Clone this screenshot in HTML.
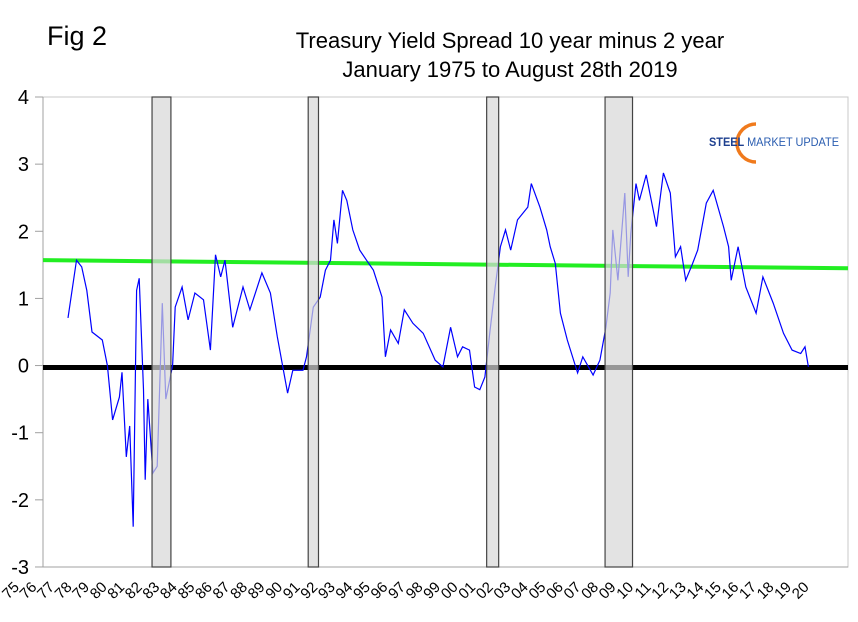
<!DOCTYPE html>
<html><head><meta charset="utf-8"><style>
body{margin:0;background:#fff;font-family:"Liberation Sans",sans-serif}
svg{display:block}
</style></head><body>
<svg width="858" height="622" viewBox="0 0 858 622" xmlns="http://www.w3.org/2000/svg">
<text x="47" y="45" font-size="27">Fig 2</text>
<text x="510" y="48" font-size="22" text-anchor="middle">Treasury Yield Spread 10 year minus 2 year</text>
<text x="510" y="77" font-size="22" text-anchor="middle">January 1975 to August 28th 2019</text>
<rect x="43" y="97" width="805" height="470" fill="none" stroke="#c8c8c8" stroke-width="1"/>
<g id="yaxis"></g>
<g id="xaxis"></g>
<g id="series"></g>
<g id="bars"></g>
<g>
<path d="M756 124 A19 19 0 1 0 756 162" fill="none" stroke="#f07a1c" stroke-width="3.5"/>
<text x="709" y="146" font-size="12" font-weight="bold" fill="#1d3f8f" textLength="130" lengthAdjust="spacingAndGlyphs">STEEL <tspan font-weight="normal" fill="#2a5db0">MARKET UPDATE</tspan></text>
</g>
</svg>
<script>
const yTicks=[4,3,2,1,0,-1,-2,-3];
const xLabels=["75","76","77","78","79","80","81","82","83","84","85","86","87","88","89","90","91","92","93","94","95","96","97","98","99","00","01","02","03","04","05","06","07","08","09","10","11","12","13","14","15","16","17","18","19","20"];
const recStart=[1981.5,1990.6,2001.0,2007.9];
const recEnd=[1982.6,1991.2,2001.7,2009.5];
const years=[1976.6,1977.1,1977.4,1977.7,1978.0,1978.6,1978.9,1979.2,1979.6,1979.75,1980.0,1980.2,1980.4,1980.6,1980.75,1981.0,1981.1,1981.25,1981.55,1981.8,1982.1,1982.3,1982.7,1982.85,1983.25,1983.6,1984.0,1984.5,1984.9,1985.2,1985.5,1985.75,1986.2,1986.8,1987.2,1987.9,1988.4,1988.8,1989.4,1989.7,1990.3,1990.5,1990.9,1991.3,1991.6,1991.9,1992.1,1992.3,1992.6,1992.85,1993.2,1993.6,1994.0,1994.4,1994.9,1995.1,1995.4,1995.85,1996.2,1996.7,1997.3,1998.0,1998.45,1998.9,1999.3,1999.6,2000.0,2000.3,2000.6,2000.9,2001.2,2001.5,2001.8,2002.1,2002.4,2002.8,2003.4,2003.6,2004.1,2004.5,2004.7,2005.0,2005.3,2005.7,2006.3,2006.6,2007.2,2007.6,2007.95,2008.2,2008.35,2008.65,2009.05,2009.25,2009.4,2009.7,2009.9,2010.3,2010.9,2011.3,2011.7,2012.0,2012.3,2012.6,2013.0,2013.3,2013.8,2014.2,2014.8,2015.1,2015.25,2015.65,2016.1,2016.7,2017.1,2017.7,2018.3,2018.8,2019.3,2019.55,2019.75];
const spread=[0.71,1.57,1.47,1.12,0.5,0.38,0.0,-0.81,-0.47,-0.1,-1.36,-0.9,-2.4,1.12,1.3,-0.36,-1.7,-0.5,-1.6,-1.5,0.93,-0.5,0.0,0.87,1.17,0.68,1.08,0.98,0.23,1.65,1.32,1.57,0.57,1.17,0.83,1.38,1.08,0.43,-0.41,-0.07,-0.07,0.13,0.87,1.02,1.42,1.57,2.17,1.82,2.61,2.46,2.02,1.72,1.57,1.42,1.02,0.13,0.53,0.33,0.83,0.63,0.48,0.08,-0.02,0.57,0.13,0.28,0.23,-0.32,-0.36,-0.17,0.53,1.17,1.77,2.02,1.72,2.17,2.36,2.71,2.36,2.02,1.77,1.52,0.78,0.38,-0.11,0.13,-0.14,0.08,0.57,1.08,2.02,1.27,2.57,1.32,1.97,2.71,2.46,2.84,2.07,2.87,2.57,1.62,1.77,1.27,1.52,1.72,2.42,2.61,2.07,1.77,1.27,1.77,1.17,0.78,1.32,0.93,0.48,0.23,0.18,0.28,-0.02];
const avgStart=1.57, avgEnd=1.45;
const NS="http://www.w3.org/2000/svg";
const X0=43,X1=848;
function xs(yr){return 40.5+(yr-1975)*17.16;}
function ys(v){return 97+(4-v)*67.14;}
function mk(t,a,p){const e=document.createElementNS(NS,t);for(const k in a)e.setAttribute(k,a[k]);p.appendChild(e);return e;}
const ya=document.getElementById('yaxis');
mk('line',{x1:X0,y1:97,x2:X0,y2:567,stroke:'#a0a0a0'},ya);
yTicks.forEach(v=>{
 const l=mk('line',{x1:35,y1:ys(v),x2:X0,y2:ys(v),stroke:'#a0a0a0'},ya);
 
 
 const t=mk('text',{x:29,y:ys(v)+7,'font-size':20,'text-anchor':'end'},ya);
 t.textContent=String(v);
 
 
});
const xa=document.getElementById('xaxis');
mk('line',{x1:X0,y1:567,x2:X1,y2:567,stroke:'#a0a0a0'},xa);
xLabels.forEach((s,i)=>{
 const x=20+i*17.55;
 const t=mk('text',{x:x,y:588,'font-size':15,'text-anchor':'end',transform:`rotate(-45 ${x} 588)`},xa);
 t.textContent=s;
 
 
});
const sg=document.getElementById('series');
const g=mk('line',{x1:X0,y1:ys(avgStart),x2:X1,y2:ys(avgEnd),stroke:'#22ee22','stroke-width':4},sg);


const z=mk('line',{x1:X0,y1:ys(0)+2,x2:X1,y2:ys(0)+2,stroke:'#000','stroke-width':5},sg);


const pts=years.map((y,i)=>xs(y).toFixed(1)+','+ys(spread[i]).toFixed(1)).join(' ');
const pl=mk('polyline',{points:pts,fill:'none',stroke:'#0000ff','stroke-width':1.2},sg);


const bg=document.getElementById('bars');
recStart.forEach((s,i)=>{
 const r=mk('rect',{x:xs(s),y:97,width:xs(recEnd[i])-xs(s),height:470,fill:'rgba(215,215,215,0.7)',stroke:'#444','stroke-width':1.2},bg);
 
 
});
</script>
</body></html>
